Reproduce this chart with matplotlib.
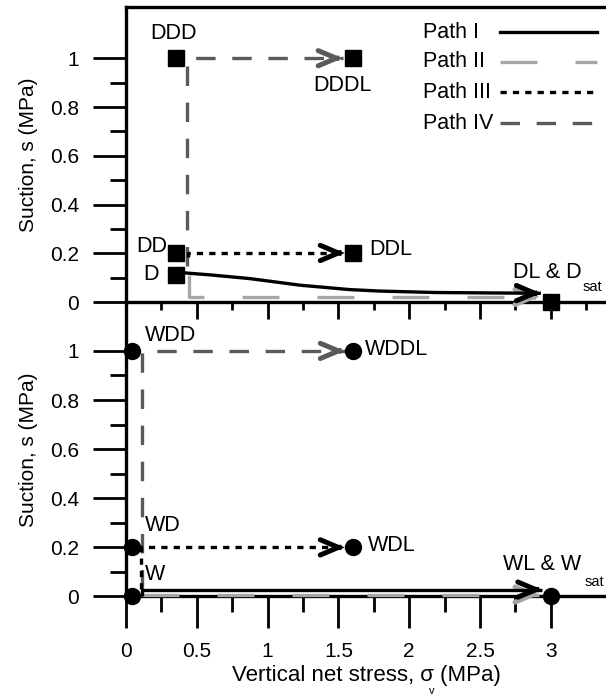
import matplotlib
matplotlib.use('Agg')
import matplotlib.pyplot as plt
from matplotlib.ticker import FixedLocator, FixedFormatter

plt.rcParams['font.family'] = ['Liberation Sans', 'DejaVu Sans']
plt.rcParams['font.size'] = 15
plt.rcParams['lines.scale_dashes'] = False

# ---------------- data ----------------
# top panel: specimen dried first (squares)
d_names = ['D', 'DD', 'DDD', 'DDDL', 'DDL', 'DL & D']
d_x = [0.35, 0.35, 0.35, 1.60, 1.60, 3.00]
d_y = [0.11, 0.20, 1.00, 1.00, 0.20, 0.00]
d_lab_x = [0.233, 0.29, 0.335, 1.53, 1.72, 2.73]
d_lab_y = [0.113, 0.23, 1.10, 0.89, 0.215, 0.123]
d_lab_ha = ['right', 'right', 'center', 'center', 'left', 'left']

# bottom panel: specimen wetted first (circles)
w_names = ['W', 'WD', 'WDD', 'WDDL', 'WDL', 'WL & W']
w_x = [0.04, 0.04, 0.04, 1.60, 1.60, 3.00]
w_y = [0.00, 0.20, 1.00, 1.00, 0.20, 0.00]
w_lab_x = [0.134, 0.134, 0.134, 1.687, 1.708, 2.66]
w_lab_y = [0.09, 0.288, 1.063, 1.006, 0.206, 0.132]

# stress paths (top panel)
top_p1_x = [0.38, 0.6, 0.875, 1.23, 1.58, 1.79, 2.19, 2.66, 2.93]
top_p1_y = [0.122, 0.112, 0.097, 0.070, 0.052, 0.046, 0.040, 0.038, 0.037]
top_p2_x = [0.445, 0.445, 2.92]
top_p2_y = [0.11, 0.022, 0.022]
top_p3_x = [0.44, 0.44, 1.545]
top_p3_y = [0.185, 0.202, 0.202]
top_p4_x = [0.428, 0.428, 1.53]
top_p4_y = [0.15, 1.00, 1.00]

# stress paths (bottom panel)
bot_p1_x = [0.11, 0.11, 2.94]
bot_p1_y = [0.0, 0.028, 0.028]
bot_p2_x = [0.11, 2.92]
bot_p2_y = [0.008, 0.008]
bot_p3_x = [0.103, 0.103, 1.545]
bot_p3_y = [0.03, 0.20, 0.20]
bot_p4_x = [0.11, 0.11, 1.545]
bot_p4_y = [0.03, 1.00, 1.00]

path_labels = ['Path I', 'Path II', 'Path III', 'Path IV']
path_colors = ['black', '#a6a6a6', 'black', '#5a5a5a']
path_ls = ['-', (0, (26.6, 27.4)), (0, (4.5, 4.4)), (0, (14, 12))]

y_ticks = [0, 0.2, 0.4, 0.6, 0.8, 1.0]
y_ticklabels = ['0', '0.2', '0.4', '0.6', '0.8', '1']
y_minor = [0.1, 0.3, 0.5, 0.7, 0.9]
x_ticks = [0, 0.5, 1, 1.5, 2, 2.5, 3]
x_ticklabels = ['0', '0.5', '1', '1.5', '2', '2.5', '3']
x_minor_top = [0.25, 0.75, 1.25, 1.75, 2.25, 2.75, 3.25]
x_minor_bot = [0.25, 0.75, 1.25, 1.75, 2.25, 2.75]

# ---------------- figure ----------------
fig = plt.figure(figsize=(6.06, 6.97), dpi=100)
ax_top = fig.add_axes([0.2079, 0.5663, 0.7921, 0.4237])
ax_bot = fig.add_axes([0.2079, 0.1442, 0.7921, 0.4221])
# transparent backgrounds so the ticks of the upper panel stay visible
ax_top.patch.set_visible(False)
ax_bot.patch.set_visible(False)

ax_top.set_xlim(0, 3.39)
ax_top.set_ylim(0, 1.21)
ax_bot.set_xlim(0, 3.39)
ax_bot.set_ylim(0, 1.198)


def draw_path(ax, xs, ys, i):
    ax.plot(xs, ys, color=path_colors[i], linestyle=path_ls[i], lw=2.4,
            dash_capstyle='butt', solid_capstyle='butt', zorder=3, clip_on=False)
    dx = xs[-1] - xs[-2]
    dy = ys[-1] - ys[-2]
    ax.annotate('', xy=(xs[-1], ys[-1]),
                xytext=(xs[-1] - 0.03, ys[-1] - 0.03 * dy / dx),
                arrowprops=dict(arrowstyle='->,head_length=1.3,head_width=0.55',
                                color=path_colors[i], lw=3.6, shrinkA=0, shrinkB=0,
                                mutation_scale=10, joinstyle='miter'),
                zorder=3, annotation_clip=False)


# drawn back to front as in the original
draw_path(ax_top, top_p4_x, top_p4_y, 3)
draw_path(ax_top, top_p2_x, top_p2_y, 1)
draw_path(ax_top, top_p3_x, top_p3_y, 2)
draw_path(ax_top, top_p1_x, top_p1_y, 0)

draw_path(ax_bot, bot_p4_x, bot_p4_y, 3)
draw_path(ax_bot, bot_p3_x, bot_p3_y, 2)
draw_path(ax_bot, bot_p2_x, bot_p2_y, 1)
draw_path(ax_bot, bot_p1_x, bot_p1_y, 0)

ax_top.plot(d_x, d_y, 's', color='black', ms=12, ls='none', zorder=6, clip_on=False)
ax_bot.plot(w_x, w_y, 'o', color='black', ms=11.5, ls='none', zorder=6, clip_on=False)

for name, x, y, ha in zip(d_names, d_lab_x, d_lab_y, d_lab_ha):
    ax_top.text(x, y, name, ha=ha, va='center', fontsize=15.5)
ax_top.text(3.225, 0.062, 'sat', ha='left', va='center', fontsize=10.5)

for name, x, y in zip(w_names, w_lab_x, w_lab_y):
    ax_bot.text(x, y, name, ha='left', va='center', fontsize=15.5)
ax_bot.text(3.24, 0.061, 'sat', ha='left', va='center', fontsize=10.5)

# legend: text on the left, line sample on the right
leg_y = [0.915, 0.814, 0.712, 0.607]
for i, lab in enumerate(path_labels):
    ax_top.text(0.619, leg_y[i], lab, transform=ax_top.transAxes,
                ha='left', va='center', fontsize=15.5)
    ax_top.plot([0.779, 0.981], [leg_y[i], leg_y[i]], transform=ax_top.transAxes,
                color=path_colors[i], linestyle=path_ls[i], lw=2.4,
                dash_capstyle='butt', clip_on=False)

# axes styling
for ax in (ax_top, ax_bot):
    ax.spines['right'].set_visible(False)
    for s in ('left', 'bottom', 'top'):
        ax.spines[s].set_linewidth(2.4)
    ax.yaxis.set_major_locator(FixedLocator(y_ticks))
    ax.yaxis.set_major_formatter(FixedFormatter(y_ticklabels))
    ax.yaxis.set_minor_locator(FixedLocator(y_minor))
    ax.xaxis.set_major_locator(FixedLocator(x_ticks))
    ax.tick_params(axis='y', which='major', direction='out', length=23.8, width=2,
                   pad=10, labelsize=15)
    ax.tick_params(axis='y', which='minor', direction='out', length=11.5, width=2)
    ax.set_ylabel('Suction, s (MPa)', fontsize=15)
    ax.yaxis.set_label_coords(-0.183, 0.5)

ax_bot.spines['top'].set_visible(False)

ax_top.xaxis.set_minor_locator(FixedLocator(x_minor_top))
ax_top.tick_params(axis='x', which='major', direction='out', length=12, width=2,
                   labelbottom=False)
ax_top.tick_params(axis='x', which='minor', direction='out', length=5.5, width=2)

ax_bot.xaxis.set_major_formatter(FixedFormatter(x_ticklabels))
ax_bot.xaxis.set_minor_locator(FixedLocator(x_minor_bot))
ax_bot.tick_params(axis='x', which='major', direction='out', length=23, width=2,
                   pad=10, labelsize=15)
ax_bot.tick_params(axis='x', which='minor', direction='out', length=11.5, width=2)
ax_bot.set_xlabel('Vertical net stress, \u03c3 (MPa)', fontsize=16, labelpad=3)
fig.text(432 / 606, 0.001, 'v', ha='center', va='bottom', fontsize=8)

fig.savefig('out.png', dpi=100)
